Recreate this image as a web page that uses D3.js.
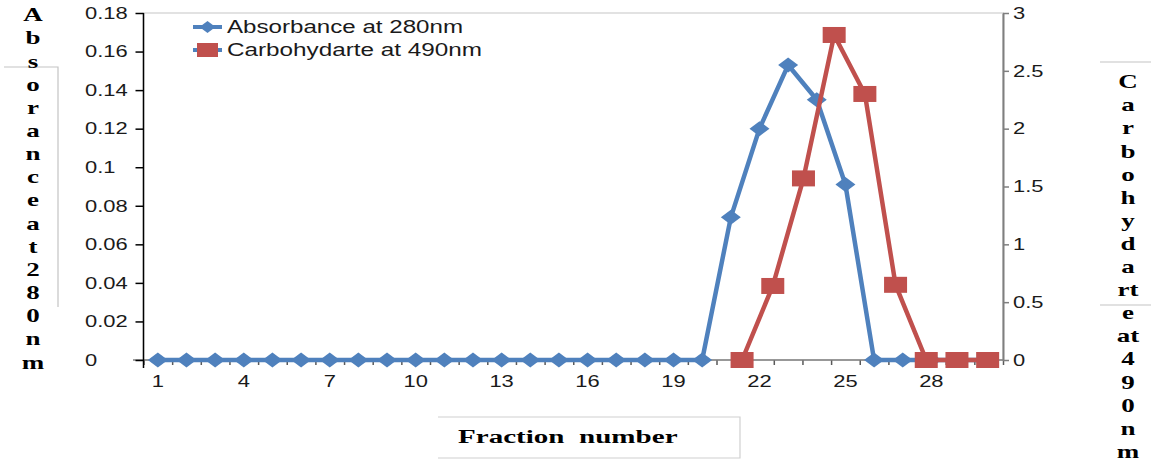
<!DOCTYPE html>
<html>
<head>
<meta charset="utf-8">
<script src="https://cdn.jsdelivr.net/npm/d3@7"></script>
<style>
  body { margin: 0; background: #fff; }
  svg { display: block; }
  text { font-family: "Liberation Sans", Arial, sans-serif; fill: #1a1a1a; }
  .serif { font-family: "Liberation Serif", "Times New Roman", serif; font-weight: bold; fill: #000; }
</style>
</head>
<body>
<svg id="chart" width="1151" height="461"></svg>
<script>
// fractions on the main (bottom) axis
const fractions = [1,2,3,4,5,6,7,8,9,10,11,12,13,14,15,16,17,18,19,20,21,22,23,24,25,26,27,28,29,30];
const absorbance = [0,0,0,0,0,0,0,0,0,0,0,0,0,0,0,0,0,0,0,0,0.074,0.120,0.153,0.135,0.091,0,0,0,0,0];

// carbohydrate series sits on a hidden secondary category axis (28 categories)
const secFractions = [1,2,3,4,5,6,7,8,9,10,11,12,13,14,15,16,17,18,19,20,21,22,23,24,25,26,27,28];
const carbFractions = [20,21,22,23,24,25,26,27,28];
const carbohydrate = [0,0.64,1.57,2.81,2.30,0.65,0,0,0];

const xLabels = [1,4,7,10,13,16,19,22,25,28];
const leftTicks = [0,0.02,0.04,0.06,0.08,0.1,0.12,0.14,0.16,0.18];
const rightTicks = [0,0.5,1,1.5,2,2.5,3];

const seriesNames = ["Absorbance at 280nm", "Carbohydarte at 490nm"];
const leftTitle = ["A","b","s","o","r","a","n","c","e","a","t","2","8","0","n","m"];
const rightTitle = ["C","a","r","b","o","h","y","d","a","rt","e","at","4","9","0","n","m"];
const xTitle = "Fraction  number";

const blue = "#4f81bd", red = "#c0504d";
const pLeft = 143.5, pRight = 1003, pTop = 13, pBottom = 360;

const svg = d3.select("#chart");

const x = d3.scaleBand().domain(fractions).range([pLeft, pRight]);
const xSec = d3.scaleBand().domain(secFractions).range([pLeft, pRight]);
const xEdge = d3.scaleLinear().domain([0.5, 30.5]).range([pLeft, pRight]);
const yL = d3.scaleLinear().domain([0, 0.18]).range([pBottom, pTop]);
const yR = d3.scaleLinear().domain([0, 3]).range([pBottom, pTop]);
const cx = d => x(d) + x.bandwidth() / 2;
const cxSec = d => xSec(d) + xSec.bandwidth() / 2;

// stretch text horizontally (the original picture is wide)
function stretch(sel, sx) {
  sel.each(function() {
    const t = d3.select(this);
    const tx = +t.attr("x") || 0;
    t.attr("x", 0).attr("transform", `translate(${tx},0) scale(${sx},1)`);
  });
}

// plot area border
svg.append("rect")
  .attr("x", pLeft).attr("y", pTop)
  .attr("width", pRight - pLeft).attr("height", pBottom - pTop)
  .attr("fill", "none").attr("stroke", "#d9d9d9").attr("stroke-width", 1.5);

// x axis: ticks at category edges
const gx = svg.append("g").attr("transform", `translate(0,${pBottom})`)
  .call(d3.axisBottom(xEdge).tickValues(d3.range(0.5, 31, 1)).tickSize(5).tickFormat("").tickSizeOuter(0));
gx.select(".domain").remove();
gx.selectAll("line").attr("stroke", "#595959").attr("stroke-width", 1.5);
svg.append("line").attr("x1", 133).attr("x2", pRight).attr("y1", pBottom).attr("y2", pBottom)
  .attr("stroke", "#7f7f7f").attr("stroke-width", 1.5);

const gxl = svg.append("g").attr("transform", `translate(0,${pBottom})`)
  .call(d3.axisBottom(x).tickValues(xLabels).tickSize(0).tickPadding(15));
gxl.attr("font-family", null).attr("font-size", null);
gxl.select(".domain").remove();
gxl.selectAll("text").style("font-size", "16.5px").attr("fill", "#1a1a1a");
stretch(gxl.selectAll("text"), 1.33);

// left axis
const gl = svg.append("g").attr("transform", `translate(${pLeft},0)`)
  .call(d3.axisLeft(yL).tickValues(leftTicks).tickSize(8).tickSizeOuter(0)
    .tickFormat(d => String(+d.toFixed(2))));
gl.attr("font-family", null).attr("font-size", null);
gl.select(".domain").attr("stroke", "#000").attr("stroke-width", 1.5).attr("d", `M0,${pTop}V${pBottom + 8}`);
gl.selectAll("line").attr("stroke", "#000").attr("stroke-width", 1.5);
gl.selectAll("text").style("font-size", "16.5px")
  .attr("fill", "#1a1a1a").attr("text-anchor", "start").attr("x", 85 - pLeft);
stretch(gl.selectAll("text"), 1.33);

// right axis
const gr = svg.append("g").attr("transform", `translate(${pRight},0)`)
  .call(d3.axisRight(yR).tickValues(rightTicks).tickSize(6).tickSizeOuter(0).tickFormat(d => String(d)));
gr.attr("font-family", null).attr("font-size", null);
gr.select(".domain").attr("stroke", "#7f7f7f").attr("stroke-width", 2);
gr.selectAll("line").attr("stroke", "#7f7f7f").attr("stroke-width", 1.5);
gr.selectAll("text").style("font-size", "16.5px")
  .attr("fill", "#1a1a1a").attr("x", 10);
stretch(gr.selectAll("text"), 1.33);

// series
const blueData = fractions.map((f, i) => ({ f, v: absorbance[i] }));
const redData = carbFractions.map((f, i) => ({ f, v: carbohydrate[i] }));

svg.append("path").datum(blueData)
  .attr("fill", "none").attr("stroke", blue).attr("stroke-width", 4.5).attr("stroke-linejoin", "round")
  .attr("d", d3.line().x(d => cx(d.f)).y(d => yL(d.v)));
svg.append("g").selectAll("path").data(blueData).join("path")
  .attr("transform", d => `translate(${cx(d.f)},${yL(d.v)})`)
  .attr("d", "M-10,0L0,-7.5L10,0L0,7.5Z").attr("fill", blue);

svg.append("path").datum(redData)
  .attr("fill", "none").attr("stroke", red).attr("stroke-width", 4.5).attr("stroke-linejoin", "round")
  .attr("d", d3.line().x(d => cxSec(d.f)).y(d => yR(d.v)));
svg.append("g").selectAll("rect").data(redData).join("rect")
  .attr("x", d => cxSec(d.f) - 11.5).attr("y", d => yR(d.v) - 8)
  .attr("width", 23).attr("height", 16).attr("fill", red);

// legend
const lg = svg.append("g");
const legendWidths = [236, 255];
[27, 50].forEach((ly, i) => {
  lg.append("line").attr("x1", 193).attr("x2", 222).attr("y1", ly).attr("y2", ly)
    .attr("stroke", blue).attr("stroke-width", 4);
  if (i === 0) {
    lg.append("path").attr("transform", `translate(207.5,${ly})`)
      .attr("d", "M-8,0L0,-6L8,0L0,6Z").attr("fill", blue);
  } else {
    lg.append("rect").attr("x", 197).attr("y", ly - 7).attr("width", 21).attr("height", 14).attr("fill", red);
  }
  lg.append("text").attr("x", 227).attr("y", ly).attr("dy", "0.35em")
    .attr("textLength", legendWidths[i]).attr("lengthAdjust", "spacingAndGlyphs")
    .style("font-size", "17.5px").text(seriesNames[i]);
});

// left title, stacked letters
const gray = "#c4c4c4";
svg.append("path").attr("d", "M4,67H58V307").attr("fill", "none").attr("stroke", gray).attr("stroke-width", 1.2);
const lt = svg.append("g").selectAll("text").data(leftTitle).join("text")
  .attr("class", "serif").attr("text-anchor", "middle")
  .attr("x", 33).attr("y", (d, i) => 15 + i * 23.15).attr("dy", "0.35em")
  .style("font-size", "18px").text(d => d);
stretch(lt, 1.5);

// right title
svg.append("path").attr("d", "M1100,62H1151M1100,305H1151").attr("stroke", gray).attr("stroke-width", 1.2);
const rt = svg.append("g").selectAll("text").data(rightTitle).join("text")
  .attr("class", "serif").attr("text-anchor", "middle")
  .attr("x", 1128).attr("y", (d, i) => 82 + i * 23.1).attr("dy", "0.35em")
  .style("font-size", "18px").text(d => d);
stretch(rt, 1.5);

// x title box
svg.append("path").attr("d", "M438,417H740V458H438").attr("fill", "none").attr("stroke", "#d0d0d0").attr("stroke-width", 1.2);
const xt = svg.append("text").attr("class", "serif").attr("x", 458).attr("y", 443)
  .style("font-size", "19px").style("white-space", "pre").text(xTitle);
stretch(xt, 1.53);
</script>
</body>
</html>
